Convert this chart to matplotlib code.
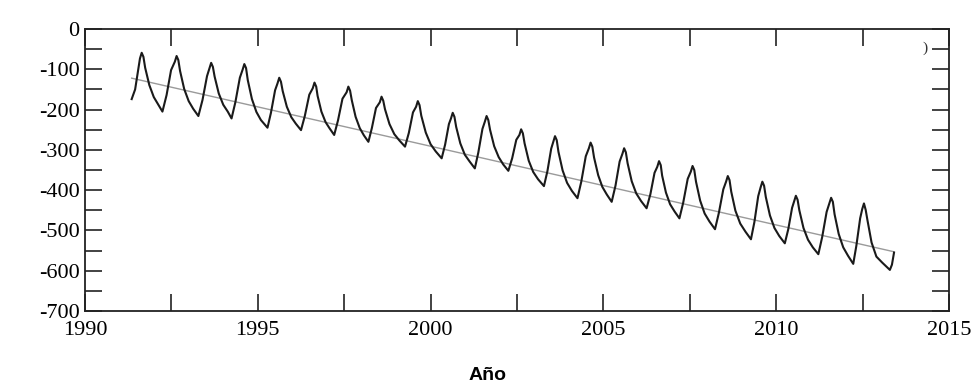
import matplotlib
matplotlib.use('Agg')
import matplotlib.pyplot as plt
from matplotlib.ticker import MultipleLocator, FuncFormatter
from matplotlib.transforms import ScaledTranslation

# Curve (decimal year, value), one row per seasonal cycle
years = [1991.35, 1991.45, 1991.59, 1991.64, 1991.69, 1991.74, 1991.86, 1991.99, 1992.12, 1992.24,
         1992.36, 1992.49, 1992.60, 1992.65, 1992.70, 1992.75, 1992.87, 1993.00, 1993.13, 1993.28,
         1993.40, 1993.53, 1993.60, 1993.65, 1993.70, 1993.75, 1993.87, 1994.00, 1994.13, 1994.24,
         1994.35, 1994.48, 1994.56, 1994.61, 1994.66, 1994.71, 1994.83, 1994.96, 1995.09, 1995.28,
         1995.38, 1995.50, 1995.57, 1995.62, 1995.67, 1995.72, 1995.84, 1995.97, 1996.10, 1996.25,
         1996.36, 1996.49, 1996.59, 1996.64, 1996.69, 1996.73, 1996.84, 1996.96, 1997.08, 1997.21,
         1997.32, 1997.45, 1997.57, 1997.62, 1997.67, 1997.72, 1997.83, 1997.95, 1998.07, 1998.20,
         1998.30, 1998.42, 1998.53, 1998.58, 1998.63, 1998.68, 1998.81, 1998.95, 1999.10, 1999.26,
         1999.37, 1999.49, 1999.58, 1999.63, 1999.68, 1999.73, 1999.86, 2000.00, 2000.15, 2000.32,
         2000.42, 2000.53, 2000.59, 2000.64, 2000.69, 2000.74, 2000.86, 2000.99, 2001.13, 2001.28,
         2001.38, 2001.50, 2001.57, 2001.62, 2001.67, 2001.72, 2001.84, 2001.97, 2002.10, 2002.25,
         2002.36, 2002.48, 2002.57, 2002.62, 2002.67, 2002.72, 2002.84, 2002.97, 2003.11, 2003.28,
         2003.38, 2003.49, 2003.55, 2003.60, 2003.65, 2003.70, 2003.82, 2003.95, 2004.09, 2004.25,
         2004.36, 2004.49, 2004.58, 2004.63, 2004.68, 2004.73, 2004.85, 2004.97, 2005.10, 2005.24,
         2005.35, 2005.47, 2005.55, 2005.60, 2005.65, 2005.70, 2005.82, 2005.95, 2006.09, 2006.25,
         2006.36, 2006.48, 2006.56, 2006.61, 2006.66, 2006.70, 2006.81, 2006.93, 2007.06, 2007.20,
         2007.31, 2007.44, 2007.53, 2007.58, 2007.63, 2007.68, 2007.80, 2007.93, 2008.07, 2008.23,
         2008.34, 2008.47, 2008.55, 2008.60, 2008.65, 2008.70, 2008.82, 2008.96, 2009.11, 2009.27,
         2009.37, 2009.48, 2009.55, 2009.60, 2009.65, 2009.70, 2009.82, 2009.95, 2010.09, 2010.25,
         2010.35, 2010.46, 2010.52, 2010.57, 2010.62, 2010.67, 2010.79, 2010.92, 2011.06, 2011.22,
         2011.33, 2011.46, 2011.54, 2011.59, 2011.64, 2011.69, 2011.81, 2011.94, 2012.08, 2012.23,
         2012.32, 2012.43, 2012.49, 2012.54, 2012.59, 2012.64, 2012.76, 2012.90, 2013.07, 2013.29,
         2013.35, 2013.41]
values = [-174, -150, -73, -59, -69, -96, -139, -169, -188, -205,
          -164, -102, -81, -67, -77, -104, -149, -179, -198, -216,
          -176, -117, -98, -84, -94, -118, -160, -188, -205, -222,
          -182, -121, -101, -87, -97, -127, -174, -206, -226, -245,
          -208, -152, -135, -121, -131, -154, -193, -219, -235, -251,
          -216, -163, -147, -133, -143, -166, -205, -231, -247, -263,
          -227, -173, -157, -143, -153, -177, -218, -246, -264, -280,
          -246, -196, -182, -168, -178, -199, -236, -261, -277, -292,
          -258, -207, -193, -179, -189, -215, -257, -286, -304, -321,
          -287, -236, -222, -208, -218, -243, -284, -312, -329, -346,
          -307, -248, -230, -216, -226, -250, -291, -318, -336, -352,
          -321, -275, -263, -249, -259, -284, -327, -355, -373, -390,
          -353, -297, -280, -266, -276, -305, -351, -382, -402, -420,
          -379, -316, -296, -282, -292, -319, -363, -392, -411, -429,
          -389, -329, -310, -296, -306, -333, -378, -408, -427, -445,
          -410, -357, -342, -328, -338, -364, -406, -435, -453, -470,
          -431, -372, -354, -340, -350, -379, -426, -458, -478, -497,
          -457, -398, -379, -365, -375, -404, -451, -483, -503, -522,
          -479, -415, -393, -379, -389, -417, -463, -494, -514, -532,
          -497, -444, -428, -414, -424, -450, -494, -523, -542, -559,
          -517, -454, -433, -419, -429, -460, -509, -542, -563, -583,
          -538, -470, -447, -433, -449, -474, -530, -565, -580, -598,
          -585, -555]

# Linear trend endpoints
trend_years = [1991.35, 2013.41]
trend_values = [-122, -553]

fig = plt.figure(figsize=(9.75, 3.9), dpi=100)
ax = fig.add_axes([0.0872, 0.2026, 0.8861, 0.723])

ax.plot(trend_years, trend_values, color='#9a9a9a', linewidth=1.0)
ax.plot(years, values, color='#1a1a1a', linewidth=1.5)

ax.set_xlim(1990, 2015)
ax.set_ylim(-700, 0)
ax.xaxis.set_major_locator(MultipleLocator(5))
ax.xaxis.set_minor_locator(MultipleLocator(2.5))
ax.yaxis.set_major_locator(MultipleLocator(100))
ax.yaxis.set_minor_locator(MultipleLocator(50))
ax.yaxis.set_major_formatter(FuncFormatter(lambda v, p: '%d' % v))

for which in ['major', 'minor']:
    ax.tick_params(axis='both', which=which, direction='in', length=12, width=1.2,
                   top=True, right=True, color='#222222')
ax.tick_params(axis='x', which='major', labelsize=16, pad=7)
ax.tick_params(axis='y', which='major', labelsize=16, pad=4)
for lab in ax.get_xticklabels() + ax.get_yticklabels():
    lab.set_family('Liberation Serif')

# lift the -700 label a little so it clears 1990
fig.canvas.draw()
t700 = ax.yaxis.get_major_ticks()[0].label1
t700.set_transform(t700.get_transform() + ScaledTranslation(0, 4 / 72, fig.dpi_scale_trans))

for s in ax.spines.values():
    s.set_linewidth(1.3)
    s.set_color('#222222')

fig.text(0.5, 1 - 375 / 390, 'Año', ha='center', va='center',
         fontsize=14, fontweight='bold', family='Liberation Sans')
fig.text(925 / 975, 1 - 48 / 390, ')', ha='center', va='center', fontsize=11,
         family='Liberation Serif', color='#333333')

fig.savefig('out.png', dpi=100)
